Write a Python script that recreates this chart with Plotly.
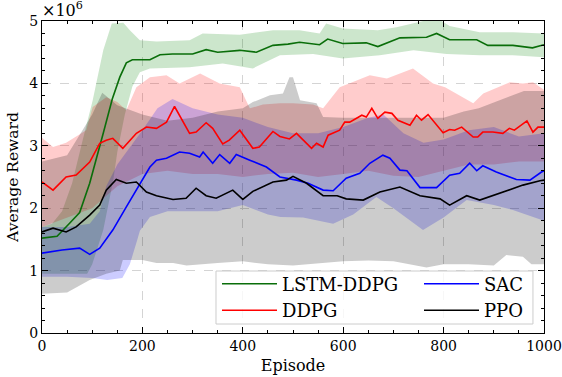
import plotly.graph_objects as go

# ---------------- data (values in units of 1e6) ----------------
lstm_x = [0,30,55,75,95,108,122,140,155,168,180,215,235,260,300,327,350,394,427,460,490,513,553,569,599,646,669,713,766,786,812,866,888,938,977,1000]
lstm_y = [1.52,1.55,1.76,1.93,2.4,2.77,3.2,3.75,4.1,4.33,4.38,4.38,4.46,4.47,4.47,4.54,4.5,4.53,4.5,4.61,4.63,4.66,4.62,4.71,4.64,4.65,4.59,4.73,4.74,4.8,4.7,4.7,4.61,4.61,4.57,4.62]
lstm_up_x = [0,20,40,60,81,101,122,139,162,175,195,228,294,320,394,460,513,553,566,599,669,706,786,812,872,938,1000]
lstm_up_y = [1.7,1.75,1.95,2.4,3.09,3.73,4.53,4.96,4.97,4.85,4.69,4.67,4.69,4.8,4.78,4.85,4.85,4.8,4.96,4.88,4.85,4.9,5.05,4.92,4.82,4.82,4.8]
lstm_lo_x = [0,50,90,100,122,135,142,150,165,180,195,215,294,360,420,474,540,599,673,740,806,872,938,1000]
lstm_lo_y = [0.95,0.95,0.95,1.1,1.65,2.17,2.45,2.9,3.5,3.95,4.18,4.24,4.26,4.32,4.24,4.45,4.47,4.4,4.45,4.53,4.47,4.45,4.45,4.42]

ddpg_x = [0,22,48,68,95,115,128,141,161,188,208,228,248,264,294,307,327,340,360,373,394,420,433,460,474,493,507,537,547,560,570,593,603,613,637,646,657,669,683,697,709,733,746,756,769,799,812,822,836,859,868,878,898,918,931,941,966,978,988,1000]
ddpg_y = [2.42,2.29,2.5,2.53,2.74,3.04,3.09,3.12,2.96,3.2,3.3,3.28,3.38,3.63,3.2,3.22,3.37,3.28,3.03,3.09,3.25,2.96,2.98,3.23,3.15,3.11,3.2,2.96,3.04,2.98,3.17,3.25,3.38,3.38,3.49,3.46,3.6,3.44,3.54,3.52,3.41,3.33,3.49,3.41,3.5,3.21,3.26,3.25,3.3,3.14,3.14,3.22,3.22,3.2,3.28,3.25,3.4,3.22,3.3,3.3]
ddpg_up_x = [0,22,48,68,88,101,128,150,168,188,215,248,274,315,354,394,414,440,474,500,540,560,593,653,687,739,779,803,859,879,932,958,978,1000]
ddpg_up_y = [3.13,2.98,3.05,3.15,3.25,3.62,3.78,3.7,3.57,3.94,4.1,4.13,4.0,4.16,4.0,3.94,3.6,3.66,3.68,3.68,3.66,3.6,3.94,4.13,4.08,4.24,4.0,3.94,3.68,3.84,4.02,4.0,4.02,3.9]
ddpg_lo_x = [0,50,100,150,200,250,300,350,400,450,500,550,600,650,700,750,800,850,900,950,1000]
ddpg_lo_y = [1.7,1.85,2.0,2.35,2.55,2.6,2.55,2.55,2.5,2.55,2.57,2.5,2.55,2.6,2.52,2.5,2.6,2.7,2.7,2.75,2.75]

sac_x = [0,40,75,95,115,141,168,195,215,228,248,274,294,314,321,340,354,374,387,414,447,474,507,530,560,580,606,633,653,679,693,713,727,753,786,812,832,852,866,878,905,945,972,995,1000]
sac_y = [1.28,1.33,1.36,1.26,1.36,1.65,2.02,2.4,2.66,2.77,2.8,2.9,2.88,2.82,2.9,2.72,2.86,2.72,2.86,2.77,2.66,2.5,2.45,2.4,2.29,2.28,2.48,2.56,2.72,2.85,2.8,2.61,2.6,2.33,2.33,2.53,2.56,2.72,2.6,2.68,2.58,2.46,2.45,2.58,2.6]
sac_up_x = [0,50,95,115,128,150,200,230,260,300,350,400,450,500,550,600,650,680,720,760,800,850,900,950,1000]
sac_up_y = [1.7,1.7,1.75,1.95,2.35,2.7,3.25,3.6,3.75,3.6,3.5,3.45,3.3,3.2,3.2,3.3,3.45,3.5,3.2,3.05,3.1,3.25,3.3,3.15,3.2]
sac_lo_x = [0,50,100,130,160,175,190,195,215,250,300,350,400,450,475,520,580,620,666,700,759,800,846,900,938,1000]
sac_lo_y = [0.9,0.9,0.88,0.85,0.88,1.1,1.5,1.64,1.86,1.95,1.95,1.95,2.05,1.9,1.86,1.85,1.75,1.9,2.18,2.0,1.65,1.85,2.13,2.05,1.97,1.8]

ppo_x = [0,22,48,68,95,115,128,148,168,188,208,228,261,287,307,327,347,380,400,420,460,487,500,527,560,588,606,640,673,713,753,793,812,846,872,898,932,958,992,1000]
ppo_y = [1.62,1.68,1.62,1.7,1.89,2.05,2.29,2.46,2.4,2.42,2.26,2.2,2.14,2.16,2.32,2.2,2.16,2.29,2.14,2.27,2.42,2.45,2.51,2.4,2.2,2.2,2.15,2.13,2.26,2.34,2.2,2.15,2.05,2.2,2.13,2.2,2.29,2.37,2.44,2.45]
ppo_up_x = [0,50,100,120,150,200,250,300,350,400,420,454,480,493,500,514,547,560,600,700,800,840,870,960,1000]
ppo_up_y = [2.75,2.85,3.5,3.85,3.65,3.5,3.4,3.45,3.55,3.6,3.7,3.81,3.84,4.1,4.1,3.73,3.68,3.46,3.45,3.45,3.45,3.55,3.6,3.88,3.88]
ppo_lo_x = [0,50,95,128,155,161,200,228,261,288,350,400,450,500,550,600,650,700,766,800,850,900,925,958,975,1000]
ppo_lo_y = [0.63,0.65,0.85,0.95,1.0,1.17,1.17,1.12,1.12,1.08,1.12,1.15,1.1,1.08,1.12,1.15,1.16,1.15,1.05,1.1,1.1,1.08,1.25,1.22,1.1,1.1]

series = [
    ("LSTM-DDPG", lstm_x, lstm_y, lstm_up_x, lstm_up_y, lstm_lo_x, lstm_lo_y, "#0a6e0a", "rgba(0,128,0,0.2)", "legend"),
    ("DDPG", ddpg_x, ddpg_y, ddpg_up_x, ddpg_up_y, ddpg_lo_x, ddpg_lo_y, "#ff0000", "rgba(255,0,0,0.2)", "legend"),
    ("SAC", sac_x, sac_y, sac_up_x, sac_up_y, sac_lo_x, sac_lo_y, "#0000ff", "rgba(0,0,255,0.2)", "legend2"),
    ("PPO", ppo_x, ppo_y, ppo_up_x, ppo_up_y, ppo_lo_x, ppo_lo_y, "#000000", "rgba(0,0,0,0.2)", "legend2"),
]

FONT = "DejaVu Serif"
fig = go.Figure()

for name, x, y, ux, uy, lx, ly, lc, fc, lg in series:
    fig.add_trace(go.Scatter(
        x=list(ux) + list(reversed(lx)), y=list(uy) + list(reversed(ly)),
        fill="toself", fillcolor=fc, line=dict(width=0), mode="lines",
        showlegend=False, hoverinfo="skip"))

for name, x, y, ux, uy, lx, ly, lc, fc, lg in series:
    fig.add_trace(go.Scatter(
        x=x, y=y, mode="lines", name=name, line=dict(color=lc, width=1.6),
        legend=lg))

axis_common = dict(
    showline=True, linecolor="black", linewidth=1.2, mirror="ticks",
    ticks="inside", ticklen=6, tickwidth=1, tickcolor="black",
    showgrid=True, gridcolor="#d4d4d4", griddash="dash", gridwidth=1,
    zeroline=False, automargin=False,
    tickfont=dict(family=FONT, size=14, color="black"),
)

fig.update_xaxes(range=[0, 1000], tickvals=[0, 200, 400, 600, 800, 1000],
                 minor=dict(dtick=50, ticks="inside", ticklen=3, tickcolor="black", showgrid=False),
                 title=dict(text="Episode", font=dict(family=FONT, size=16, color="black"), standoff=6),
                 **axis_common)
fig.update_yaxes(range=[0, 5], tickvals=[0, 1, 2, 3, 4, 5],
                 minor=dict(dtick=0.2, ticks="inside", ticklen=3, tickcolor="black", showgrid=False),
                 title=dict(text="Average Reward", font=dict(family=FONT, size=15.5, color="black"), standoff=6),
                 **axis_common)

fig.add_annotation(x=0, y=1, xref="paper", yref="paper", xanchor="left", yanchor="bottom",
                   text="×10<sup>6</sup>", showarrow=False, font=dict(family=FONT, size=16, color="black"),
                   xshift=-2, yshift=-1)

# legend frame
fig.add_shape(type="rect", xref="paper", yref="paper", x0=0.3466, x1=0.978, y0=0.0288, y1=0.1987,
              fillcolor="rgba(255,255,255,0.8)", line=dict(color="#cccccc", width=1), layer="above")

leg_common = dict(bgcolor="rgba(0,0,0,0)", borderwidth=0, orientation="v",
                  font=dict(family=FONT, size=18, color="black"),
                  xanchor="left", yanchor="top", itemwidth=55, tracegroupgap=0)

fig.update_layout(
    width=562, height=377,
    margin=dict(l=42, r=18, t=21, b=44),
    plot_bgcolor="white", paper_bgcolor="white",
    font=dict(family=FONT, color="black"),
    legend=dict(x=0.3486, y=0.216, **leg_common),
    legend2=dict(x=0.751, y=0.216, **leg_common),
    showlegend=True,
)

fig.write_html("out.html")
